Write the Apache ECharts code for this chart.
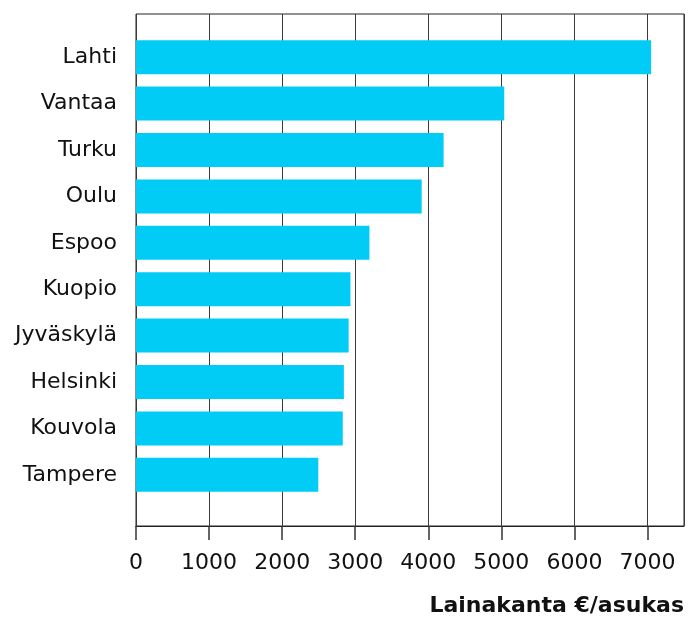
<!DOCTYPE html>
<html>
<head>
<meta charset="utf-8">
<script src="https://cdn.jsdelivr.net/npm/echarts@6/dist/echarts.min.js"></script>
<style>
  html, body { margin: 0; padding: 0; background: #fff; }
  #main { width: 690px; height: 619px; }
</style>
</head>
<body>
<div id="main"></div>
<script>
// kunnat ylhäältä alas
var cities = ['Lahti', 'Vantaa', 'Turku', 'Oulu', 'Espoo', 'Kuopio', 'Jyväskylä', 'Helsinki', 'Kouvola', 'Tampere'];
var loanPerResident = [7050, 5040, 4210, 3910, 3195, 2935, 2910, 2845, 2830, 2495];
var tickStep = 1000;
var tickMax = 7000;
var xMax = 7500;
var axisTitle = 'Lainakanta €/asukas';

var font = 'DejaVu Sans';
var chart = echarts.init(document.getElementById('main'));

var plotLeft = 136, plotTop = 14, plotW = 548, plotH = 512;

var option = {
  animation: false,
  textStyle: { fontFamily: font },
  grid: [
    // kehys + pystyviivat
    { left: plotLeft, top: plotTop, width: plotW, height: plotH, show: true, borderColor: '#222', borderWidth: 1, z: 0 },
    // palkit
    { left: plotLeft, top: 34, width: plotW, height: 464 },
    // väkäset ja luvut 0..7000
    { left: plotLeft, top: plotTop, width: plotW * tickMax / xMax, height: plotH }
  ],
  xAxis: [
    {
      gridIndex: 0,
      type: 'value',
      min: 0,
      max: xMax,
      interval: tickStep,
      axisLine: { show: true, onZero: false, lineStyle: { color: '#222', width: 1 } },
      axisTick: { show: false },
      axisLabel: { show: false },
      splitLine: { show: true, lineStyle: { color: '#3a3a3a', width: 1 } }
    },
    { gridIndex: 1, type: 'value', min: 0, max: xMax, show: false },
    {
      gridIndex: 2,
      type: 'value',
      min: 0,
      max: tickMax,
      interval: tickStep,
      axisLine: { show: true, onZero: false, lineStyle: { color: '#222', width: 1 } },
      axisTick: { show: true, inside: false, length: 14, lineStyle: { color: '#333', width: 1.5 } },
      axisLabel: {
        fontSize: 22, color: '#111', margin: 26, fontFamily: font,
        formatter: function (v) { return String(v); }
      },
      splitLine: { show: false }
    }
  ],
  yAxis: [
    { gridIndex: 0, type: 'value', min: 0, max: 1, show: false },
    {
      gridIndex: 1,
      type: 'category',
      data: cities,
      inverse: true,
      axisLine: { show: false },
      axisTick: { show: false },
      axisLabel: { fontSize: 22, color: '#111', margin: 19, fontFamily: font },
      splitLine: { show: false }
    },
    { gridIndex: 2, type: 'value', min: 0, max: 1, show: false }
  ],
  series: [
    {
      type: 'bar',
      xAxisIndex: 1,
      yAxisIndex: 1,
      data: loanPerResident,
      barWidth: 34,
      itemStyle: { color: '#00ccf6' },
      z: 3
    }
  ],
  graphic: [
    {
      type: 'text',
      right: 6,
      top: 595,
      style: { text: axisTitle, font: 'bold 22px "DejaVu Sans"', fill: '#111' }
    }
  ]
};

chart.setOption(option);
</script>
</body>
</html>
